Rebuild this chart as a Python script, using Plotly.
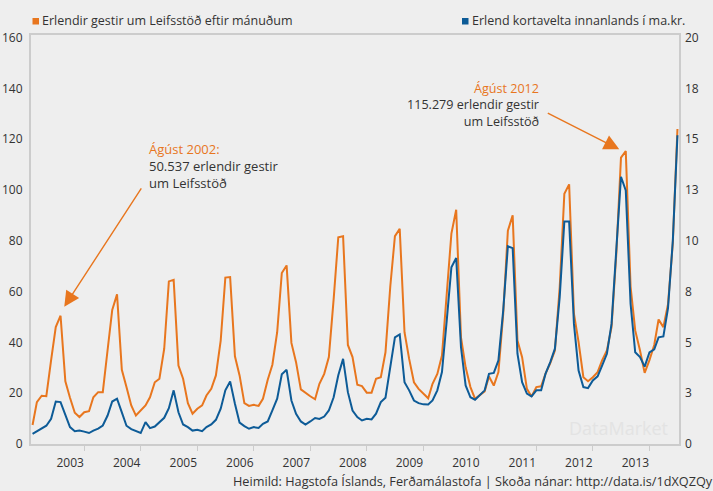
import pandas as pd
import plotly.graph_objects as go

# ---------------- data ----------------
months = pd.date_range("2002-02-01", periods=138, freq="MS")

# Erlendir gestir um Leifsstöð (þúsundir) per month
gestir_2002 = [7.5, 16.5, 19.0, 18.8, 33.0, 46.0, 50.5, 24.7, 18.2, 12.3, 10.6]
gestir_2003 = [12.5, 12.9, 18.4, 20.4, 20.4, 37.0, 52.8, 58.9, 29.2, 22.4, 15.2, 11.2]
gestir_2004 = [13.2, 15.2, 18.4, 24.3, 25.7, 37.5, 64.0, 64.6, 30.9, 25.7, 16.1, 11.9]
gestir_2005 = [13.9, 15.2, 19.1, 21.7, 27.0, 40.7, 65.5, 65.7, 34.5, 27.0, 16.1, 15.0]
gestir_2006 = [15.4, 15.0, 17.8, 25.3, 31.2, 44.0, 67.3, 70.3, 39.8, 32.2, 21.5, 20.0]
gestir_2007 = [18.8, 17.6, 23.7, 27.6, 34.2, 57.0, 81.4, 81.8, 39.0, 34.2, 23.3, 22.8]
gestir_2008 = [20.2, 20.2, 25.7, 26.3, 36.1, 62.0, 81.8, 84.7, 44.0, 33.5, 24.3, 21.7]
gestir_2009 = [19.8, 18.0, 23.7, 27.6, 34.8, 60.0, 82.8, 92.2, 42.0, 30.2, 22.4, 17.8]
gestir_2010 = [19.1, 20.7, 26.6, 23.0, 28.3, 51.3, 84.0, 90.0, 40.7, 34.2, 21.7, 18.7]
gestir_2011 = [22.4, 22.7, 27.6, 31.8, 36.8, 61.7, 98.5, 102.2, 51.3, 40.1, 26.3, 24.7]
gestir_2012 = [26.3, 28.3, 32.9, 36.8, 46.0, 75.0, 112.7, 115.3, 62.0, 44.7, 36.8, 28.0]
gestir_2013 = [33.0, 39.0, 49.0, 46.0, 55.0, 79.0, 124.0]

# Erlend kortavelta innanlands (ma.kr.) per month
korta_2002 = [0.50, 0.63, 0.76, 0.90, 1.24, 2.09, 2.06, 1.40, 0.83, 0.63, 0.66]
korta_2003 = [0.61, 0.54, 0.66, 0.76, 0.91, 1.40, 2.09, 2.23, 1.56, 0.90, 0.73, 0.63]
korta_2004 = [0.54, 1.08, 0.78, 0.86, 1.08, 1.29, 1.76, 2.64, 1.56, 0.96, 0.83, 0.66]
korta_2005 = [0.70, 0.63, 0.83, 0.96, 1.19, 1.74, 2.64, 3.08, 1.98, 1.05, 0.88, 0.75]
korta_2006 = [0.83, 0.79, 0.99, 1.11, 1.65, 2.23, 3.43, 3.65, 2.14, 1.49, 1.11, 0.96]
korta_2007 = [1.11, 1.28, 1.23, 1.35, 1.65, 2.30, 3.38, 4.19, 2.55, 1.65, 1.33, 1.16]
korta_2008 = [1.24, 1.21, 1.49, 2.06, 2.28, 3.78, 5.25, 5.39, 3.04, 2.64, 2.14, 2.01]
korta_2009 = [1.95, 1.94, 2.14, 2.64, 3.54, 6.08, 8.70, 9.15, 4.76, 2.88, 2.30, 2.18]
korta_2010 = [2.39, 2.64, 3.45, 3.50, 4.11, 6.58, 9.73, 9.64, 4.44, 3.04, 2.48, 2.34]
korta_2011 = [2.64, 2.64, 3.45, 4.03, 4.69, 7.23, 10.95, 10.95, 5.91, 3.61, 2.80, 2.75]
korta_2012 = [3.13, 3.33, 3.86, 4.44, 5.91, 9.85, 13.15, 12.48, 6.90, 4.51, 4.28, 3.81]
korta_2013 = [4.51, 4.66, 5.25, 5.29, 6.69, 10.00, 15.19]

gestir = (gestir_2002 + gestir_2003 + gestir_2004 + gestir_2005 + gestir_2006 + gestir_2007
          + gestir_2008 + gestir_2009 + gestir_2010 + gestir_2011 + gestir_2012 + gestir_2013)
korta = (korta_2002 + korta_2003 + korta_2004 + korta_2005 + korta_2006 + korta_2007
         + korta_2008 + korta_2009 + korta_2010 + korta_2011 + korta_2012 + korta_2013)

year_ticks = [f"{y}-01-01" for y in range(2003, 2014)]
year_labels = [str(y) for y in range(2003, 2014)]
left_ticks = [0, 20, 40, 60, 80, 100, 120, 140, 160]
right_ticks = [0, 2.5, 5, 7.5, 10, 12.5, 15, 17.5, 20]
right_labels = ["0", "3", "5", "8", "10", "13", "15", "18", "20"]

ORANGE = "#e8761e"
BLUE = "#0d5b97"
BG = "#eeeeee"
TXT = "#333333"
FRAME = "#cccccc"
FONT = "Open Sans"

W, H = 713, 491
L, R, T, B = 31, 679, 35, 444


def px(x):
    return (x - L) / (R - L)


def py(y):
    return (B - y) / (B - T)


fig = go.Figure()
fig.add_trace(go.Scatter(x=months, y=korta, mode="lines", yaxis="y2",
                         line=dict(color=BLUE, width=2), name="Erlend kortavelta",
                         showlegend=False, hoverinfo="skip"))
fig.add_trace(go.Scatter(x=months, y=gestir, mode="lines",
                         line=dict(color=ORANGE, width=2), name="Erlendir gestir",
                         showlegend=False, hoverinfo="skip"))

fig.update_layout(
    width=W, height=H,
    margin=dict(l=L, r=W - R, t=T, b=H - B, autoexpand=False),
    paper_bgcolor=BG, plot_bgcolor=BG,
    font=dict(family=FONT, size=12, color=TXT),
    xaxis=dict(range=["2002-01-22", "2013-07-11"], tickvals=year_ticks, ticktext=year_labels,
               ticks="outside", ticklen=5, tickcolor=FRAME, tickwidth=1,
               ticklabelshift=-14, ticklabelstandoff=2, automargin=False,
               showline=True, linecolor=FRAME, linewidth=2, mirror=True,
               showgrid=False, zeroline=False, tickfont=dict(size=12, color=TXT)),
    yaxis=dict(range=[0, 161], tickvals=left_ticks, ticks="", ticklabelstandoff=4,
               showline=True, linecolor=FRAME, linewidth=2, mirror=True, automargin=False,
               showgrid=False, zeroline=False, tickfont=dict(size=12, color=TXT)),
    yaxis2=dict(range=[0, 20.125], tickvals=right_ticks, ticktext=right_labels,
                overlaying="y", side="right", ticks="", ticklabelstandoff=5, automargin=False,
                showline=False, showgrid=False, zeroline=False,
                tickfont=dict(size=12, color=TXT)),
)

# legend squares
fig.add_shape(type="rect", xref="paper", yref="paper",
              x0=px(32.5), x1=px(39), y0=py(24.5), y1=py(18), fillcolor=ORANGE, line_width=0)
fig.add_shape(type="rect", xref="paper", yref="paper",
              x0=px(462), x1=px(468.5), y0=py(24.5), y1=py(18), fillcolor=BLUE, line_width=0)
fig.add_annotation(xref="paper", yref="paper", x=px(40), y=py(21), xanchor="left", yanchor="middle",
                   text="Erlendir gestir um Leifsstöð eftir mánuðum", showarrow=False,
                   font=dict(size=12.5, color=TXT))
fig.add_annotation(xref="paper", yref="paper", x=px(469.5), y=py(21), xanchor="left", yanchor="middle",
                   text="Erlend kortavelta innanlands í ma.kr.", showarrow=False,
                   font=dict(size=12.5, color=TXT))

# source
fig.add_annotation(xref="paper", yref="paper", x=px(231), y=py(481), xanchor="left", yanchor="middle",
                   text="Heimild: Hagstofa Íslands, Ferðamálastofa | Skoða nánar: http://data.is/1dXQZQy",
                   showarrow=False, font=dict(size=12.7, color=TXT))

# watermark
fig.add_annotation(xref="paper", yref="paper", x=px(670), y=py(428), xanchor="right", yanchor="middle",
                   text="DataMarket", showarrow=False, font=dict(size=18, color="#e3e3e3"))

# call-out texts
fig.add_annotation(xref="paper", yref="paper", x=px(147), y=py(138), xanchor="left", yanchor="top",
                   align="left", showarrow=False, font=dict(size=13, color=TXT),
                   text=f"<span style='color:{ORANGE}'>Ágúst 2002:</span><br>50.537 erlendir gestir<br>um Leifsstöð")
fig.add_annotation(xref="paper", yref="paper", x=px(541), y=py(78), xanchor="right", yanchor="top",
                   align="right", showarrow=False, font=dict(size=12.6, color=TXT),
                   text=f"<span style='color:{ORANGE}'>Ágúst 2012</span><br>115.279 erlendir gestir<br>um Leifsstöð")

# arrows
fig.add_annotation(x="2002-08-25", y=54, xref="x", yref="y", text="", showarrow=True,
                   ax=78, ay=-120, arrowcolor=ORANGE, arrowwidth=1.4, arrowhead=2, arrowsize=2.2)
fig.add_annotation(x="2012-06-20", y=116, xref="x", yref="y", text="", showarrow=True,
                   ax=-73, ay=-37, arrowcolor=ORANGE, arrowwidth=1.4, arrowhead=2, arrowsize=2.2)

fig.write_html("out.html", config={"displayModeBar": False, "staticPlot": True},
               post_script="document.body.style.margin='0';document.body.style.padding='0';"
                           "document.body.style.overflow='hidden';"
                           "document.body.style.background='" + BG + "';")
